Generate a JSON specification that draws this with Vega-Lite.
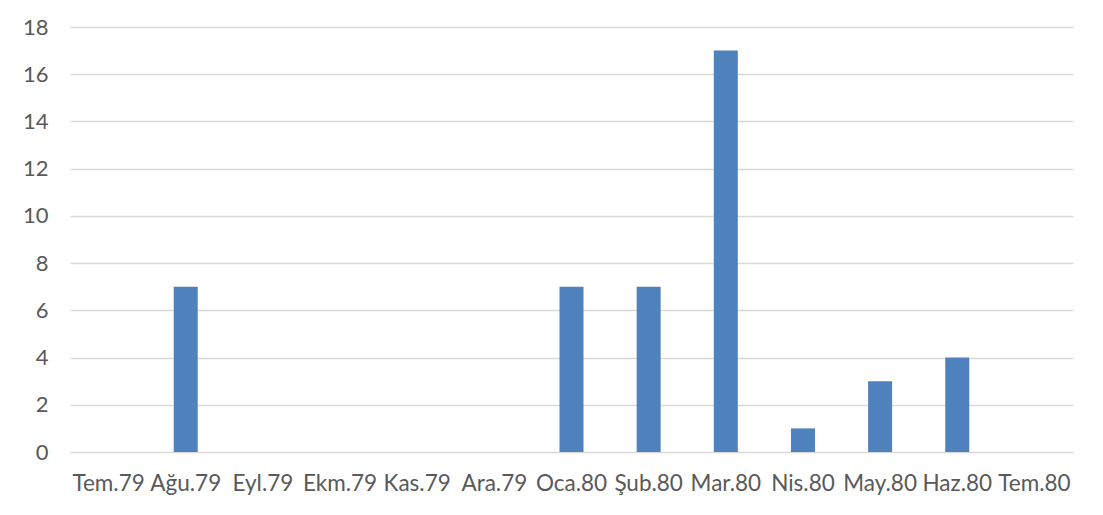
{
  "$schema": "https://vega.github.io/schema/vega-lite/v6.json",
  "autosize": "none",
  "width": 1003,
  "height": 425,
  "padding": {"left": 70, "top": 27, "right": 30, "bottom": 63},
  "background": "white",
  "data": {"values": [
    {"ay": "Tem.79", "deger": 0},
    {"ay": "Ağu.79", "deger": 7},
    {"ay": "Eyl.79", "deger": 0},
    {"ay": "Ekm.79", "deger": 0},
    {"ay": "Kas.79", "deger": 0},
    {"ay": "Ara.79", "deger": 0},
    {"ay": "Oca.80", "deger": 7},
    {"ay": "Şub.80", "deger": 7},
    {"ay": "Mar.80", "deger": 17},
    {"ay": "Nis.80", "deger": 1},
    {"ay": "May.80", "deger": 3},
    {"ay": "Haz.80", "deger": 4},
    {"ay": "Tem.80", "deger": 0}
  ]},
  "mark": {"type": "bar", "color": "#4F81BD", "size": 24},
  "encoding": {
    "x": {"field": "ay", "type": "nominal", "sort": null, "title": null,
      "axis": {"labelAngle": 0, "domain": false, "ticks": false, "labelPadding": 20,
        "labelFont": "Lato", "labelFontSize": 22.5, "labelColor": "#595959"}},
    "y": {"field": "deger", "type": "quantitative", "title": null,
      "scale": {"domain": [0, 18], "nice": false},
      "axis": {"values": [0, 2, 4, 6, 8, 10, 12, 14, 16, 18], "domain": false, "ticks": false,
        "labelPadding": 22, "labelFont": "Lato", "labelFontSize": 22, "labelColor": "#595959",
        "gridColor": "#D9D9D9", "gridWidth": 1.3}}
  },
  "config": {"view": {"stroke": null}}
}
